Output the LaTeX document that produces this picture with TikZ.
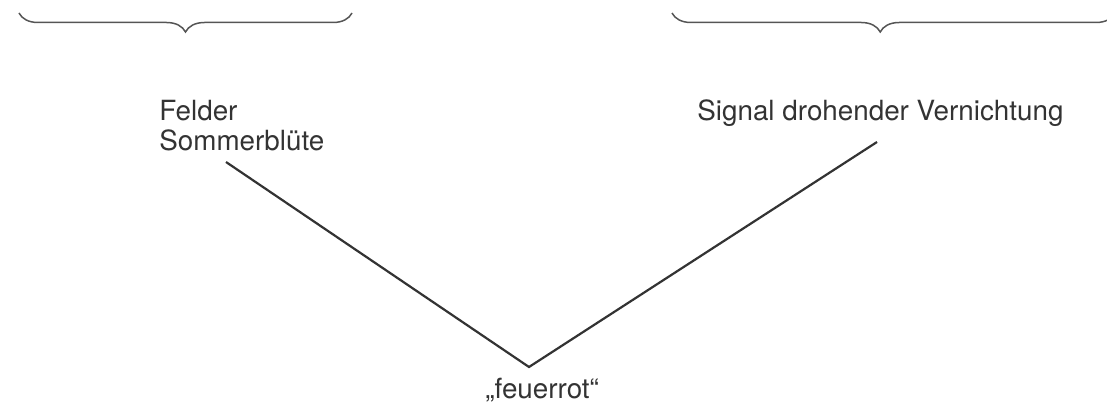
\documentclass[tikz,border=0pt]{standalone}
\usepackage{fontspec}
\setmainfont{TeX Gyre Heros}
\usetikzlibrary{
    decorations.pathreplacing
}
\definecolor{inkgray}{HTML}{333333}
\definecolor{bracegray}{HTML}{555555}
\tikzset {
    label text/.style = {anchor = base west, inner sep = 0pt, text = inkgray,
        font = \fontsize{13.9}{15}\selectfont, align = left},
    stem line/.style = {draw = inkgray, line width = 1.1pt},
    group brace/.style = {
        draw = bracegray, line width = 0.75pt,
        decorate,
        decoration = {brace, mirror, amplitude = 9.5pt, aspect = #1}
    },
    group brace/.default = 0.5
}
\begin{document}
\begin{tikzpicture}[x = 0.5pt, y = -0.5pt]
            \useasboundingbox (0, 0) rectangle (1107, 405);
            % braces over the two groups
            \draw [group brace] (19, 13) -- (352, 13);
            \draw [group brace = 0.47] (672, 13) -- (1115, 13);
            % texts
            \node (felder) [label text] at (159, 151) {Felder\\Sommerblüte};
            \node (signal) [label text] at (697, 121) {Signal drohender Vernichtung};
            \node (rot) [label text] at (485, 398) {„feuerrot“};
            \coordinate (felder end) at (226, 162);
            \coordinate (signal end) at (877, 142);
            \coordinate (tip) at (529, 367);
            \draw [stem line] (felder end) -- (tip) -- (signal end);
        \end{tikzpicture}
\end{document}
